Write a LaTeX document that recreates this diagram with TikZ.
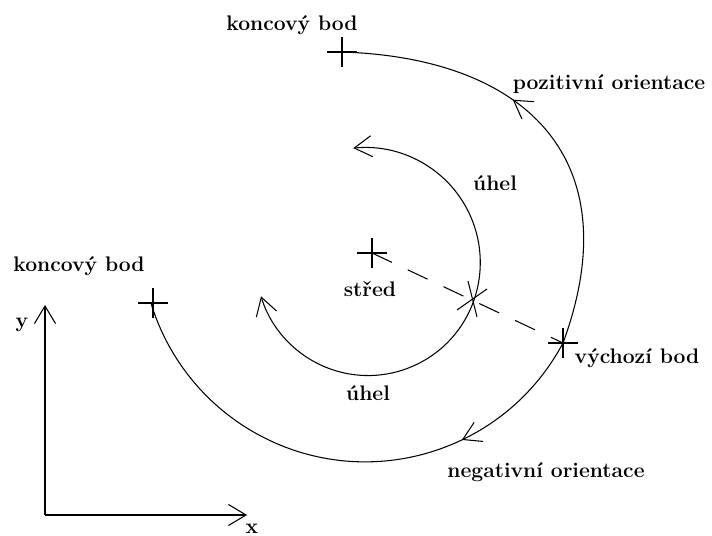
\documentclass[tikz,border=0pt]{standalone}
\usepackage{fontspec}
\usetikzlibrary{arrows.meta,shapes.misc,decorations.markings}

\begin{document}
\begin{tikzpicture}[x=0.02cm,y=0.02cm,line width=0.6pt,
 >={Straight Barb[length=10pt,width=12pt]},
 lbl/.style={font=\fontsize{12}{14}\selectfont\bfseries,inner sep=0pt},
 crossmark/.style={draw,cross out,rotate=45,minimum size=0.4cm,inner sep=0pt},
 dashline/.style={dash pattern=on 12.5pt off 10pt},
 midarrow/.style={postaction={decorate},decoration={markings,mark=at position #1 with {\arrow{>}}}}]
\useasboundingbox (0,0) rectangle (712,536);
% body
\node[crossmark] (ctr) at (372,283) {};
\coordinate (istart) at (474,236);
\node[crossmark] (ostart) at (563,193) {};
\node[crossmark] (kend1) at (342,484) {};
\node[crossmark] (kend2) at (153,233) {};
\draw (istart) ++(-6,19) -- ++(9,-36) (istart) ++(13,11) -- ++(-30,-21);
\draw[dashline] (ctr.center) -- (ostart.center);
% inner arcs
\draw[->] (istart) arc[start angle=-19,end angle=96,radius=115];
\draw[->] (istart) arc[start angle=-19,end angle=-163,radius=112];
% outer arcs
\draw[midarrow=0.6] (ostart.center) .. controls (630,375) and (528,478) .. (kend1.center);
\draw[midarrow=0.27] (ostart.center) arc[start angle=-28,end angle=-163,radius=224];
% axes
\coordinate (o) at (45,21);
\coordinate (yend) at (45,231);
\coordinate (xend) at (247,21);
\draw[->] (o) -- (yend);
\draw[->] (o) -- (xend);
% labels
\node[lbl] (tk1) at (292,511) {koncový bod};
\node[lbl] (tpos) at (609,452) {pozitivní orientace};
\node[lbl] (tu1) at (495,353) {úhel};
\node[lbl] (tctr) at (370,247) {střed};
\node[lbl] (tu2) at (368,143) {úhel};
\node[lbl] (tvych) at (637,178) {výchozí bod};
\node[lbl] (tneg) at (546,64) {negativní orientace};
\node[lbl] (tk2) at (79,270) {koncový bod};
\node[lbl] (ty) at (22,211) {y};
\node[lbl,anchor=south] (tx) at (252,2) {x};
\end{tikzpicture}
\end{document}
